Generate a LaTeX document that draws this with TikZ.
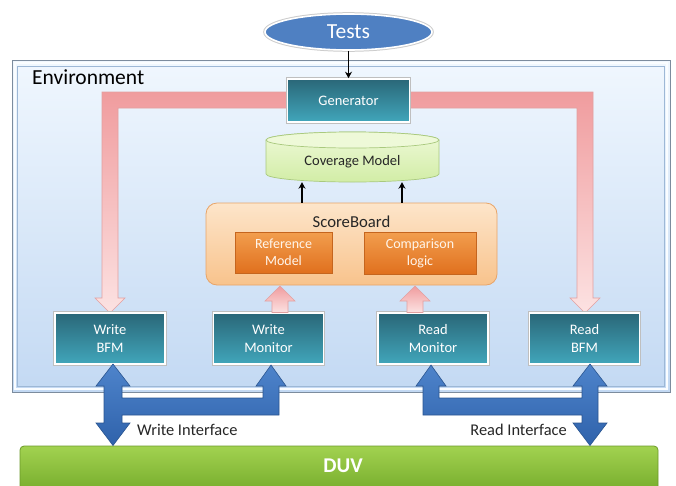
\documentclass[tikz,border=0pt]{standalone}
\usepackage{fontspec}
\setmainfont{Carlito}
\usetikzlibrary{calc,arrows.meta,shapes.geometric}
\definecolor{envtop}{HTML}{F0F7FE}
\definecolor{envbot}{HTML}{C3D9F3}
\definecolor{envline}{HTML}{7C8C9E}
\definecolor{envinner}{HTML}{9DB8D6}
\definecolor{tealtop}{HTML}{2A6778}
\definecolor{tealbot}{HTML}{41A6BB}
\definecolor{pinktop}{HTML}{F09C9E}
\definecolor{pinkbot}{HTML}{FCE2E2}
\definecolor{pinkline}{HTML}{E2A0A0}
\definecolor{bluetop}{HTML}{4E84CB}
\definecolor{bluebot}{HTML}{2F62AB}
\definecolor{blueline}{HTML}{2A5590}
\definecolor{orangetop}{HTML}{F29E4E}
\definecolor{orangebot}{HTML}{E0701E}
\definecolor{orangeline}{HTML}{C5651E}
\definecolor{sbtop}{HTML}{FDE5CA}
\definecolor{sbbot}{HTML}{F8C38C}
\definecolor{sbline}{HTML}{E8A468}
\definecolor{covtop}{HTML}{EEF9D8}
\definecolor{covbot}{HTML}{D2EDA6}
\definecolor{covline}{HTML}{A9C97E}
\definecolor{duvtop}{HTML}{A2D250}
\definecolor{duvbot}{HTML}{76AC2C}
\definecolor{duvline}{HTML}{6C9A2A}
\definecolor{testfill}{HTML}{4F80C2}
\tikzset{
  tealbox/.style={rectangle, top color=tealtop, bottom color=tealbot, draw=white, line width=1.6pt,
    preaction={draw=black!25, line width=3.4pt},
    text=white, align=center, font=\fontsize{14.5}{17.5}\selectfont, inner sep=0pt},
  orangebox/.style={rectangle, top color=orangetop, bottom color=orangebot, draw=orangeline, line width=0.6pt,
    text=white!92!orange, align=center, font=\fontsize{14}{17}\selectfont, inner sep=0pt},
  blackarrow/.style={-{Stealth[length=6.5pt,width=7pt]}, line width=1.8pt, black},
  pinkarrow/.style={top color=pinktop, bottom color=pinkbot, draw=pinkline, line width=0.6pt},
  bluearrow/.style={top color=bluetop, bottom color=bluebot, draw=blueline, line width=0.6pt},
  iflabel/.style={font=\fontsize{16.4}{18}\selectfont, text=black!85, inner sep=0pt}
}
\begin{document}
\begin{tikzpicture}[x=1pt,y=-1pt]
\useasboundingbox (0,0) rectangle (676,485);
% Environment
\fill[top color=envtop, bottom color=envbot] (12,60) rectangle (670,392);
\draw[envline, line width=1pt] (12,60) rectangle (670,392);
\draw[white!70!envtop, line width=1.6pt] (15,63) rectangle (667,389);
\draw[envinner, line width=0.6pt] (17.5,66) rectangle (664.5,386.5);
\node[anchor=west, font=\fontsize{21.5}{23}\selectfont, inner sep=0pt] (envlabel) at (32,77) {Environment};
% Pink L-shaped arrow from generator to BFMs
\path[pinkarrow] (102,298) -- (95,298) -- (110,313) -- (125,298) -- (118,298) -- (118,108)
  -- (577,108) -- (577,298) -- (570,298) -- (585,313) -- (600,298) -- (593,298) -- (593,92)
  -- (102,92) -- cycle;
% Tests
\node[ellipse, fill=testfill, draw=white, line width=1.6pt, preaction={draw=black!20, line width=3.6pt},
  minimum width=167pt, minimum height=36pt, inner sep=0pt, text=white,
  font=\fontsize{21.5}{23}\selectfont] (tests) at (348.5,32) {Tests};
% Generator
\node[tealbox, minimum width=122pt, minimum height=43pt] (gen) at (348.5,100.5) {Generator};
\draw[blackarrow] (tests.south) -- (gen.north);
% Coverage model cylinder
\path[top color=covtop, bottom color=covbot, draw=covline, line width=0.7pt]
  (266,140) -- (266,174) arc[start angle=180, end angle=0, x radius=86.5, y radius=8]
  -- (439,140) arc[start angle=0, end angle=-180, x radius=86.5, y radius=8] -- cycle;
\draw[covline, line width=0.7pt, fill=covtop] (352.5,140) ellipse[x radius=86.5, y radius=8];
\node[minimum width=173pt, minimum height=50pt, inner sep=0pt] (cov) at (352.5,157) {};
\node[font=\fontsize{14.5}{16}\selectfont, inner sep=0pt, text=black!85] (covtext) at (352.5,162) {Coverage Model};
% ScoreBoard
\node[rectangle, rounded corners=11pt, top color=sbtop, bottom color=sbbot, draw=sbline, line width=0.8pt,
  minimum width=291pt, minimum height=82pt, inner sep=0pt] (sb) at (351.5,244) {};
\node[font=\fontsize{16.7}{18}\selectfont, inner sep=0pt, text=black!85] (sbtext) at (351.5,222) {ScoreBoard};
\node[orangebox, minimum width=97pt, minimum height=41pt] (ref) at (283.5,252.5) {Reference\\Model};
\node[orangebox, minimum width=112pt, minimum height=42pt] (cmp) at (420,253) {Comparison\\logic};
\draw[blackarrow] ($(sb.north)+(-49.5,0)$) -- ($(cov.south)+(-50.5,0)$);
\draw[blackarrow] ($(sb.north)+(50.5,0)$) -- ($(cov.south)+(49.5,0)$);
% Bottom boxes
\node[tealbox, minimum width=110pt, minimum height=51pt] (wbfm) at (110,338.5) {Write\\BFM};
\node[tealbox, minimum width=110pt, minimum height=51pt] (wmon) at (268.5,338.5) {Write\\Monitor};
\node[tealbox, minimum width=110pt, minimum height=51pt] (rmon) at (433,338.5) {Read\\Monitor};
\node[tealbox, minimum width=110pt, minimum height=51pt] (rbfm) at (584.5,338.5) {Read\\BFM};
% small pink up arrows monitor -> scoreboard
\path[pinkarrow] (272,312.5) -- (272,301) -- (265,301) -- (280,286) -- (295,301) -- (288,301) -- (288,312.5) -- cycle;
\path[pinkarrow] (407,312.5) -- (407,301) -- (400,301) -- (415,286) -- (430,301) -- (423,301) -- (423,312.5) -- cycle;
% DUV
\node[rectangle, rounded corners=4pt, top color=duvtop, bottom color=duvbot, draw=duvline, line width=0.8pt,
  minimum width=638pt, minimum height=46pt, inner sep=0pt] (duvbox) at (339,469) {};
\node[text=white, font=\fontsize{21}{23}\bfseries\selectfont, inner sep=0pt] (duv) at (343,466) {DUV};
% Blue interface arrows
\path[bluearrow] (113,364) -- (130,386) -- (122,386) -- (122,398) -- (263,398) -- (263,386) -- (256,386)
  -- (271,365) -- (286,386) -- (279,386) -- (279,415) -- (122,415) -- (122,423) -- (130,423)
  -- (113,445.5) -- (96,423) -- (104,423) -- (104,386) -- (96,386) -- cycle;
\path[bluearrow] (590,364) -- (607,386) -- (598,386) -- (598,423) -- (607,423) -- (590,445.5) -- (573,423)
  -- (582,423) -- (582,415) -- (423,415) -- (423,386) -- (416,386) -- (431,365) -- (446,386)
  -- (439,386) -- (439,398) -- (582,398) -- (582,386) -- (573,386) -- cycle;
\node[iflabel, anchor=west] (wif) at (137,430) {Write Interface};
\node[iflabel, anchor=east] (rif) at (567,430) {Read Interface};
\end{tikzpicture}
\end{document}
